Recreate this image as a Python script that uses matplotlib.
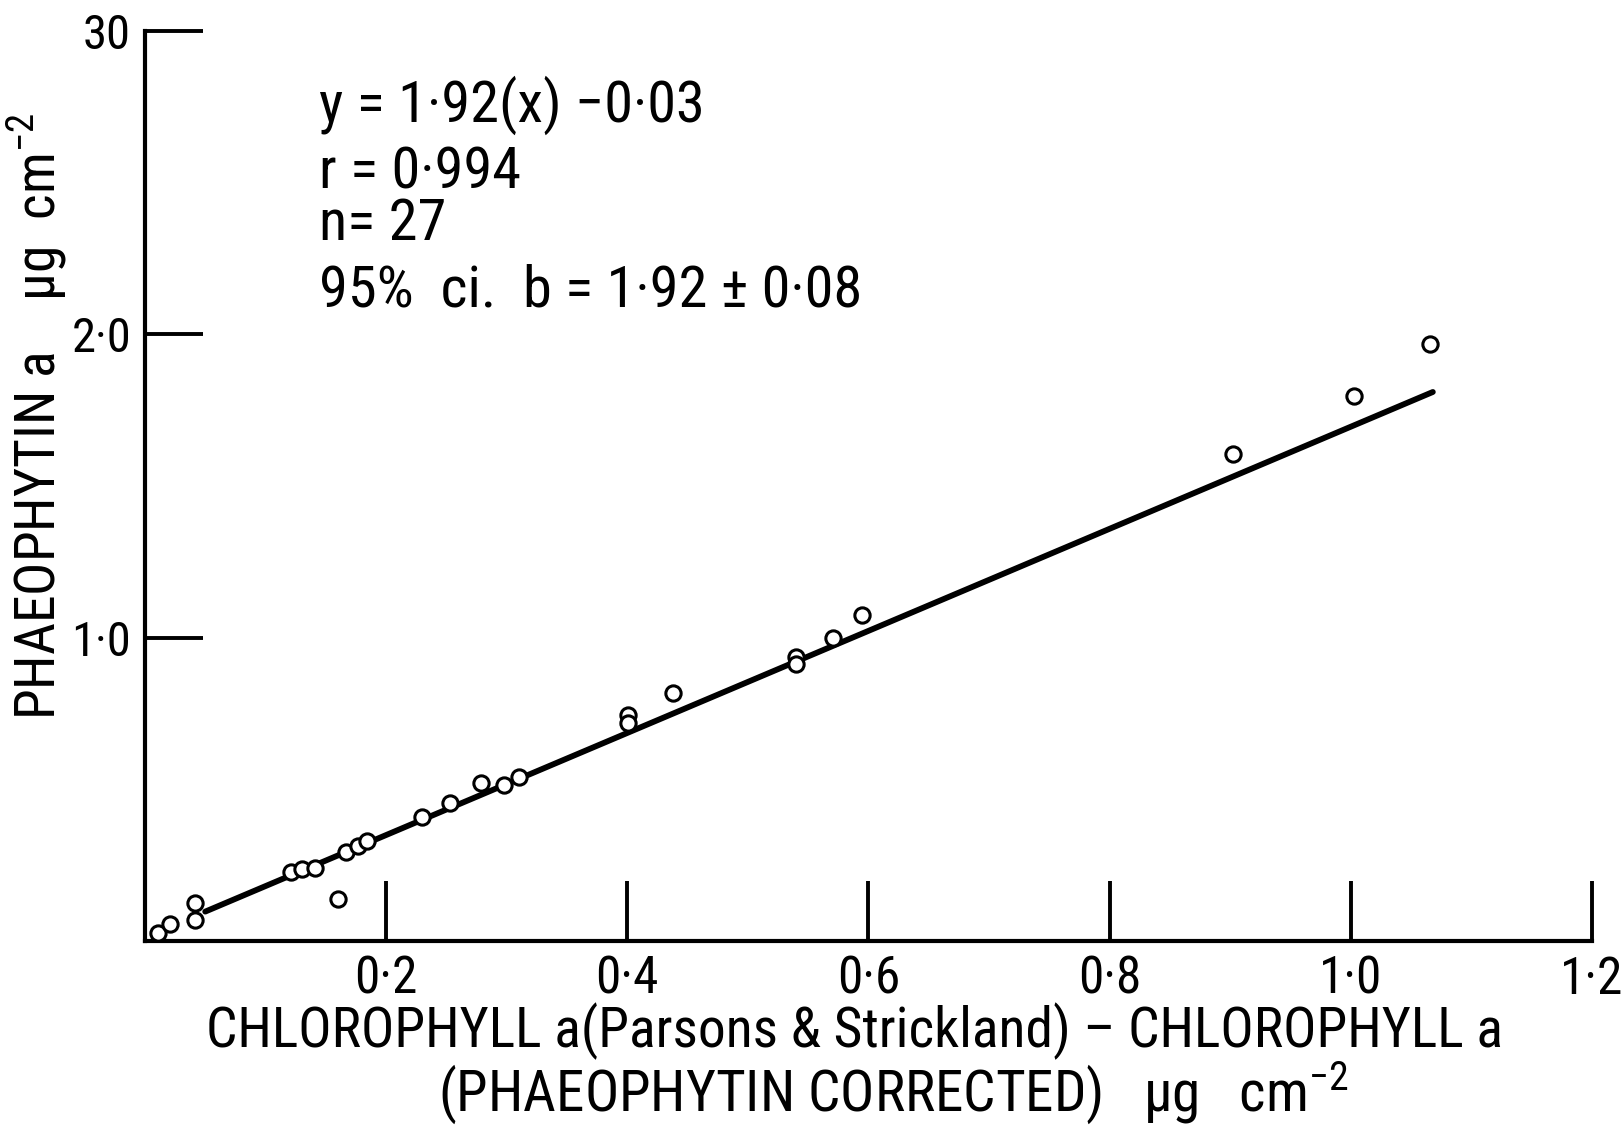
import matplotlib
matplotlib.use("Agg")
import matplotlib.pyplot as plt
from matplotlib import font_manager

# ---- data ----
chl_diff = [0.011, 0.021, 0.0415, 0.0415, 0.121, 0.1305, 0.141, 0.160, 0.167, 0.177, 0.184,
            0.230, 0.253, 0.279, 0.298, 0.310, 0.401, 0.401, 0.438, 0.540, 0.540, 0.571,
            0.595, 0.902, 1.003, 1.066]
phaeo = [0.027, 0.055, 0.069, 0.124, 0.229, 0.237, 0.242, 0.140, 0.295, 0.314, 0.331,
         0.410, 0.454, 0.522, 0.515, 0.542, 0.744, 0.720, 0.817, 0.938, 0.913, 0.999,
         1.074, 1.604, 1.796, 1.967]
fit_x = [0.050, 1.068]
fit_y = [0.097, 1.810]

x_ticks = [0.2, 0.4, 0.6, 0.8, 1.0, 1.2]
x_ticklabels = ["0·2", "0·4", "0·6", "0·8", "1·0", "1·2"]
y_ticks = [1.0, 2.0, 3.0]
y_ticklabels = ["1·0", "2·0", "30"]

stats_lines = ["y = 1·92(x) −0·03", "r = 0·994", "n= 27", "95%  ci.  b = 1·92 ± 0·08"]
xlabel_1 = "CHLOROPHYLL a(Parsons & Strickland) – CHLOROPHYLL a"
xlabel_2 = "(PHAEOPHYTIN CORRECTED)   μg   cm$^{-2}$"
ylabel = "PHAEOPHYTIN a    μg  cm$^{-2}$"

# ---- font choice ----
def available(name):
    try:
        font_manager.findfont(font_manager.FontProperties(family=name), fallback_to_default=False)
        return True
    except Exception:
        return False

main, k = "DejaVu Sans", 0.8
for name, kk in [("Liberation Sans Narrow", 1.0), ("Roboto Condensed", 1.0), ("Roboto", 0.9)]:
    if available(name):
        main, k = name, kk
        break
fam = [main, "DejaVu Sans"]
plt.rcParams["font.family"] = fam
plt.rcParams["mathtext.fontset"] = "custom"
plt.rcParams["mathtext.rm"] = main
plt.rcParams["mathtext.it"] = main
plt.rcParams["mathtext.default"] = "regular"

fig = plt.figure(figsize=(16.23, 11.32), dpi=100)
ax = fig.add_axes([0.0893, 0.1687, 0.8916, 0.8039])

ax.plot(fit_x, fit_y, color="black", lw=4.2, solid_capstyle="round", zorder=2)
ax.plot(chl_diff, phaeo, linestyle="none", marker="o", markersize=11,
        markerfacecolor="white", markeredgecolor="black", markeredgewidth=2.2,
        clip_on=False, zorder=3)

ax.set_xlim(0, 1.2)
ax.set_ylim(0, 3.0)
for s in ("top", "right"):
    ax.spines[s].set_visible(False)
for s in ("left", "bottom"):
    ax.spines[s].set_linewidth(3.0)

ax.set_xticks(x_ticks)
ax.set_xticklabels(x_ticklabels, fontsize=37 * k)
ax.set_yticks(y_ticks)
ax.set_yticklabels(y_ticklabels, fontsize=35 * k)
ax.tick_params(axis="x", direction="in", length=43, width=2.8, pad=10)
ax.tick_params(axis="y", direction="in", length=42, width=2.8, pad=10)

for t, yy in zip(stats_lines, [105, 173, 225, 291]):
    fig.text(319 / 1623, 1 - yy / 1132, t, fontsize=42 * k, ha="left", va="center")

fig.text(855 / 1623, 1 - 1031 / 1132, xlabel_1, fontsize=40 * k, ha="center", va="center")
fig.text(893 / 1623, 1 - 1093 / 1132, xlabel_2, fontsize=41 * k, ha="center", va="center")
fig.text(36 / 1623, 1 - 416 / 1132, ylabel, fontsize=40 * k, rotation=90,
         ha="center", va="center")

fig.savefig("out.png", dpi=100)
